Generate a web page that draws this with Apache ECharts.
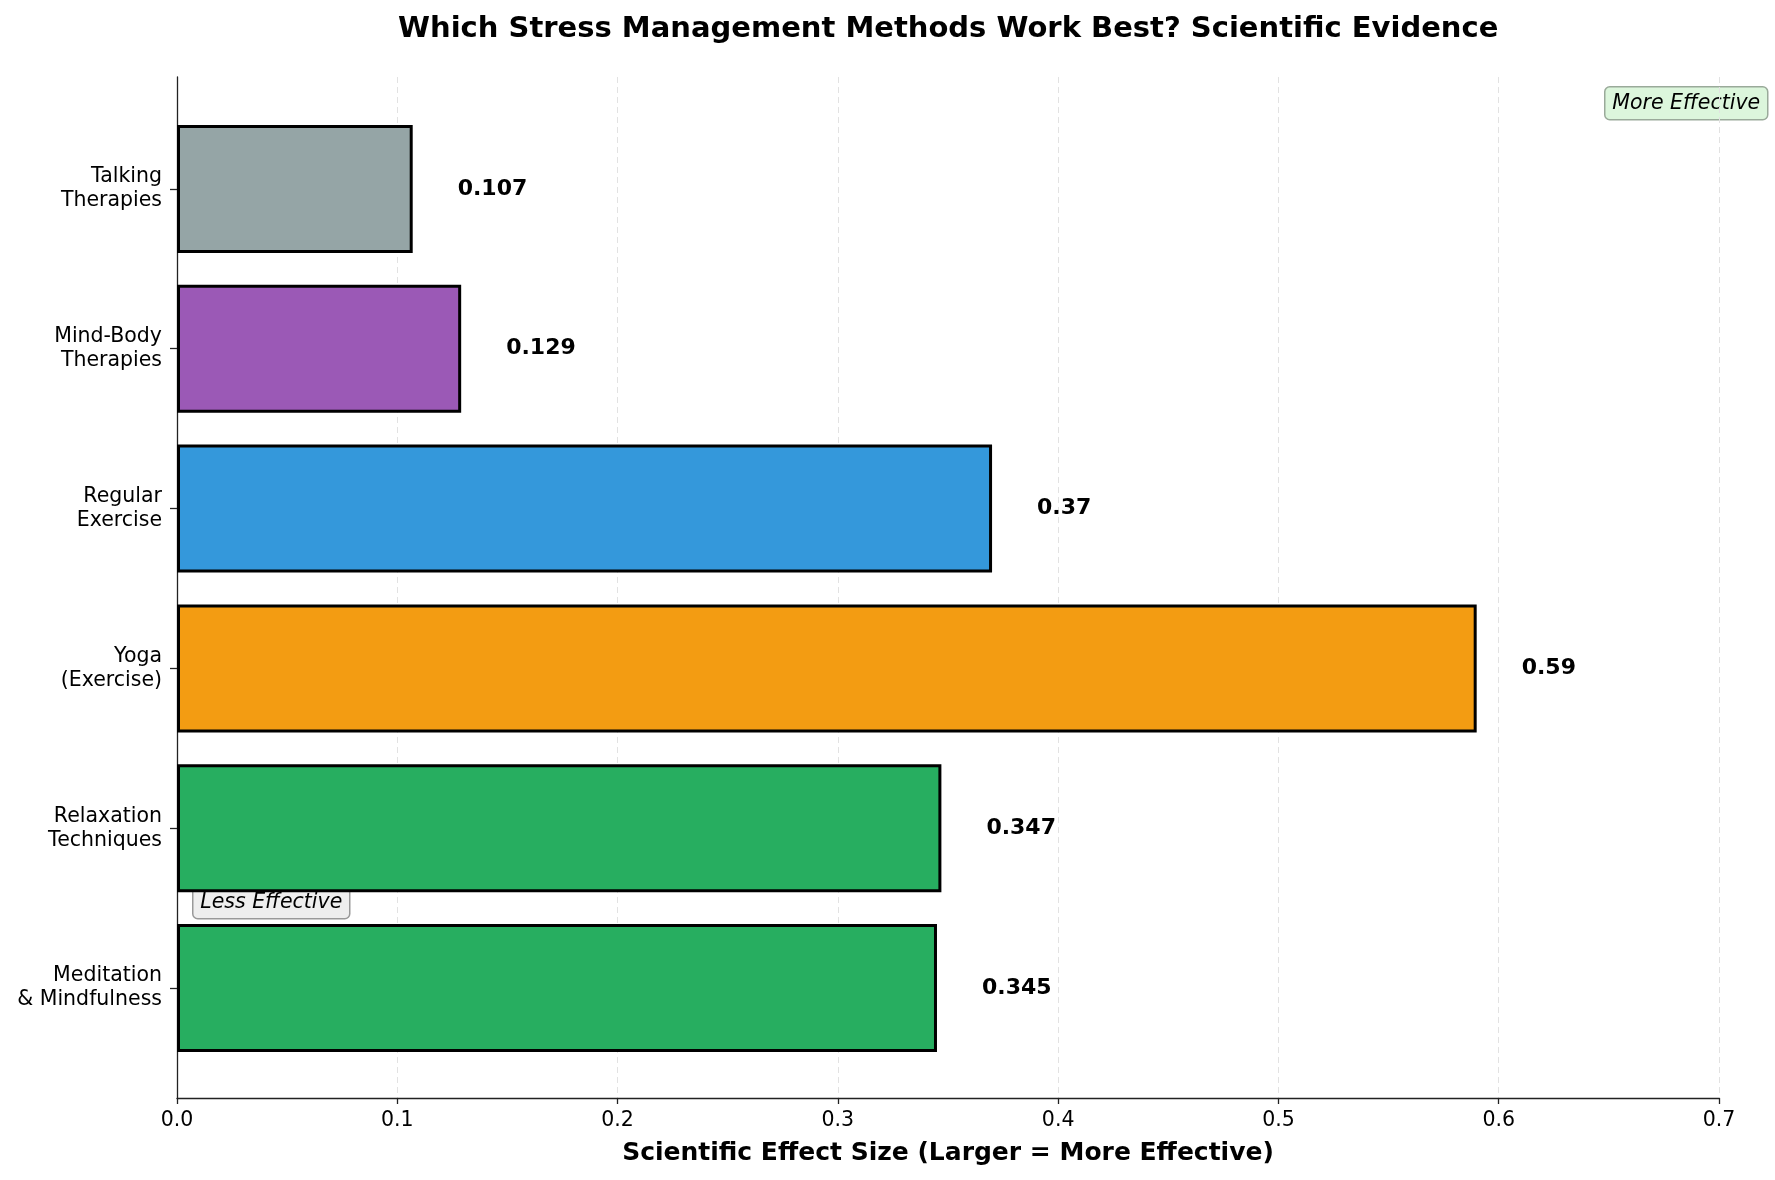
<!DOCTYPE html>
<html style="width:100%;height:100%">
<head>
    <meta charset="UTF-8">
    <title>Stress Management Methods</title>
    <script type="text/javascript" src="https://cdn.jsdelivr.net/npm/echarts@6/dist/echarts.min.js"></script>
</head>
<body style="margin:0;width:100%;height:100%;overflow:hidden;background:#fff">
    <div id="main" style="width:1775px;height:1180px"></div>

    <script type="text/javascript">
        var myChart = echarts.init(document.getElementById('main'));

        // bottom to top, as the category axis draws them
        var methods = ['Meditation\n& Mindfulness', 'Relaxation\nTechniques', 'Yoga\n(Exercise)',
                       'Regular\nExercise', 'Mind-Body\nTherapies', 'Talking\nTherapies'];
        var effectSizes = [0.345, 0.347, 0.59, 0.37, 0.129, 0.107];
        var barColors = ['#27ae60', '#27ae60', '#f39c12', '#3498db', '#9b59b6', '#95a5a6'];
        var xTicks = [0, 0.1, 0.2, 0.3, 0.4, 0.5, 0.6, 0.7];

        var font = 'DejaVu Sans';
        var left = 177, right = 56;

        option = {
            backgroundColor: '#fff',
            textStyle: { fontFamily: font },
            animation: false,
            title: {
                text: 'Which Stress Management Methods Work Best? Scientific Evidence',
                left: 393,
                top: 10,
                textStyle: { fontFamily: font, fontSize: 29, fontWeight: 'bold', color: '#000' }
            },
            grid: [
                // bars live here: six bands of ~160px
                { left: left, right: right, top: 109, bottom: 112 },
                // frame: spine, x axis, dashed grid
                { left: left, right: right, top: 77, bottom: 82 }
            ],
            xAxis: [{
                gridIndex: 0,
                type: 'value',
                min: xTicks[0],
                max: xTicks[xTicks.length - 1],
                show: false
            }, {
                gridIndex: 1,
                type: 'value',
                min: xTicks[0],
                max: xTicks[xTicks.length - 1],
                interval: 0.1,
                name: 'Scientific Effect Size (Larger = More Effective)',
                nameLocation: 'middle',
                nameGap: 43,
                nameTextStyle: { fontFamily: font, fontSize: 25, fontWeight: 'bold', color: '#000' },
                axisLine: { show: true, lineStyle: { color: '#222', width: 1.3 } },
                axisTick: { show: true, length: 6, lineStyle: { color: '#222', width: 1.3 } },
                axisLabel: {
                    margin: 12,
                    fontSize: 20.5,
                    color: '#000',
                    formatter: function (v) { return v.toFixed(1); }
                },
                splitLine: { show: true, lineStyle: { color: '#e2e2e2', type: [6, 4], width: 1 } }
            }],
            yAxis: [{
                gridIndex: 0,
                type: 'category',
                data: methods,
                axisLine: { show: false },
                axisTick: { show: true, alignWithLabel: true, length: 7, lineStyle: { color: '#222', width: 1.3 } },
                axisLabel: {
                    margin: 15,
                    fontSize: 20.5,
                    lineHeight: 24,
                    color: '#000',
                    align: 'right'
                }
            }, {
                gridIndex: 1,
                type: 'value',
                min: 0,
                max: 1,
                axisLine: { show: true, lineStyle: { color: '#222', width: 1.3 } },
                axisTick: { show: false },
                axisLabel: { show: false },
                splitLine: { show: false }
            }],
            series: [{
                type: 'bar',
                xAxisIndex: 0,
                yAxisIndex: 0,
                barWidth: 128,
                data: effectSizes.map(function (v, i) {
                    return { value: v, itemStyle: { color: barColors[i] } };
                }),
                itemStyle: { borderColor: '#000', borderWidth: 3 },
                label: {
                    show: true,
                    position: 'right',
                    distance: 45,
                    fontFamily: font,
                    fontSize: 22,
                    fontWeight: 'bold',
                    color: '#000'
                },
                z: 3
            }],
            graphic: [{
                type: 'group',
                left: 1604,
                top: 86,
                z: 10,
                children: [{
                    type: 'rect',
                    shape: { x: 0, y: 0, width: 163, height: 33, r: 5 },
                    style: { fill: 'rgba(214,245,214,0.85)', stroke: '#9aaa9a', lineWidth: 1.5 }
                }, {
                    type: 'text',
                    style: {
                        x: 81.5, y: 16.5, text: 'More Effective',
                        font: 'italic 20.5px "DejaVu Sans"', fill: '#000',
                        align: 'center', verticalAlign: 'middle'
                    }
                }]
            }, {
                type: 'group',
                left: 192,
                top: 886,
                z: 10,
                children: [{
                    type: 'rect',
                    shape: { x: 0, y: 0, width: 157, height: 32, r: 5 },
                    style: { fill: 'rgba(236,236,236,0.9)', stroke: '#999', lineWidth: 1.5 }
                }, {
                    type: 'text',
                    style: {
                        x: 78.5, y: 16, text: 'Less Effective',
                        font: 'italic 20.5px "DejaVu Sans"', fill: '#000',
                        align: 'center', verticalAlign: 'middle'
                    }
                }]
            }]
        };

        myChart.setOption(option);
    </script>
</body>
</html>
